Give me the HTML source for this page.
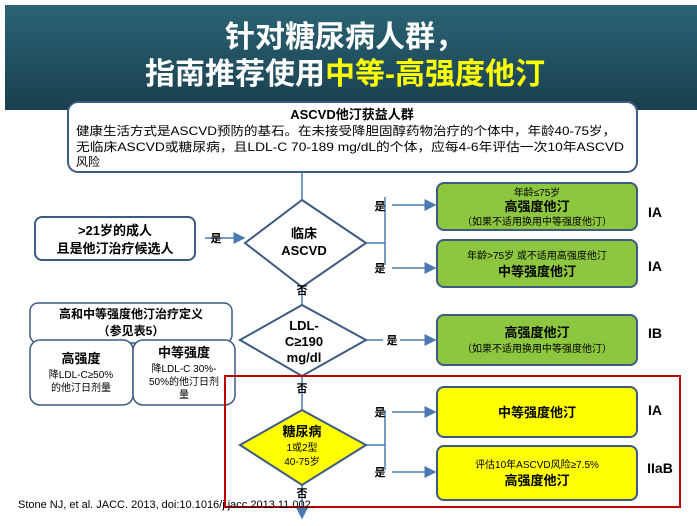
<!DOCTYPE html>
<html><head><meta charset="utf-8"><style>
body{margin:0;width:697px;height:521px;background:#fff;overflow:hidden}
text{font-family:"Liberation Sans","Noto Sans CJK SC",sans-serif}
</style></head><body>
<svg width="697" height="521" viewBox="0 0 697 521">
<defs>
<linearGradient id="hd" x1="0" y1="0" x2="0" y2="1"><stop offset="0" stop-color="#2a6474"/><stop offset="1" stop-color="#1a3f4e"/></linearGradient>
<marker id="ar" markerWidth="8" markerHeight="8" refX="7" refY="4" orient="auto"><path d="M0,0 L8,4 L0,8 z" fill="#4a7ab0"/></marker>
</defs>
<rect x="5" y="5" width="692" height="105" fill="url(#hd)"/>
<text x="345" y="47" text-anchor="middle" font-size="30" font-weight="bold" fill="#fff">针对糖尿病人群，</text>
<text x="345" y="84" text-anchor="middle" font-size="30" font-weight="bold" fill="#fff">指南推荐使用<tspan fill="#ffff00">中等-高强度他汀</tspan></text>
<rect x="68" y="102" width="569" height="70" rx="10" fill="#fff" stroke="#3d5a80" stroke-width="2"/>
<text x="352" y="119" text-anchor="middle" font-size="13" font-weight="bold">ASCVD他汀获益人群</text>
<text x="76" y="135" font-size="12" textLength="540" lengthAdjust="spacingAndGlyphs">健康生活方式是ASCVD预防的基石。在未接受降胆固醇药物治疗的个体中，年龄40-75岁，</text>
<text x="76" y="151" font-size="12" textLength="548" lengthAdjust="spacingAndGlyphs">无临床ASCVD或糖尿病，且LDL-C 70-189 mg/dL的个体，应每4-6年评估一次10年ASCVD</text>
<text x="76" y="166" font-size="12">风险</text>
<g stroke="#4a7ab0" stroke-width="1.5" fill="none">
<line x1="302" y1="172" x2="302" y2="200"/>
<line x1="302" y1="287" x2="302" y2="305"/>
<line x1="302" y1="376" x2="302" y2="410"/>
<line x1="302" y1="485" x2="302" y2="518" marker-end="url(#ar)"/>
<line x1="205" y1="238" x2="244" y2="238" marker-end="url(#ar)"/>
<line x1="366" y1="243" x2="385" y2="243"/>
<line x1="385" y1="197" x2="385" y2="265"/>
<line x1="392" y1="205" x2="435" y2="205" marker-end="url(#ar)"/>
<line x1="392" y1="268" x2="435" y2="268" marker-end="url(#ar)"/>
<line x1="366" y1="340" x2="383" y2="340"/>
<line x1="400" y1="340" x2="435" y2="340" marker-end="url(#ar)"/>
<line x1="366" y1="445" x2="385" y2="445"/>
<line x1="385" y1="410" x2="385" y2="470"/>
<line x1="392" y1="412" x2="435" y2="412" marker-end="url(#ar)"/>
<line x1="392" y1="472" x2="435" y2="472" marker-end="url(#ar)"/>
</g>
<rect x="35" y="217" width="160" height="43" rx="7" fill="#fff" stroke="#3d5a80" stroke-width="2"/>
<text x="115" y="235" text-anchor="middle" font-size="13" font-weight="bold">&gt;21岁的成人</text>
<text x="115" y="253" text-anchor="middle" font-size="13" font-weight="bold">且是他汀治疗候选人</text>
<text x="216" y="242" text-anchor="middle" font-size="11" font-weight="bold">是</text>
<polygon points="302,200 366,243 302,287 245,243" fill="#fff" stroke="#3d5a80" stroke-width="2"/>
<text x="304" y="238" text-anchor="middle" font-size="13" font-weight="bold">临床</text>
<text x="304" y="255" text-anchor="middle" font-size="13" font-weight="bold">ASCVD</text>
<text x="380" y="210" text-anchor="middle" font-size="11" font-weight="bold">是</text>
<text x="380" y="272" text-anchor="middle" font-size="11" font-weight="bold">是</text>
<rect x="437" y="183" width="200" height="47" rx="7" fill="#8dc63f" stroke="#3d5a80" stroke-width="2"/>
<text x="537" y="196" text-anchor="middle" font-size="10">年龄≤75岁</text>
<text x="537" y="211" text-anchor="middle" font-size="13" font-weight="bold">高强度他汀</text>
<text x="537" y="225" text-anchor="middle" font-size="10">（如果不适用换用中等强度他汀）</text>
<rect x="437" y="240" width="200" height="47" rx="7" fill="#8dc63f" stroke="#3d5a80" stroke-width="2"/>
<text x="537" y="259" text-anchor="middle" font-size="10">年龄&gt;75岁 或不适用高强度他汀</text>
<text x="537" y="276" text-anchor="middle" font-size="13" font-weight="bold">中等强度他汀</text>
<text x="655" y="217" text-anchor="middle" font-size="14" font-weight="bold">IA</text>
<text x="655" y="271" text-anchor="middle" font-size="14" font-weight="bold">IA</text>
<text x="302" y="294" text-anchor="middle" font-size="11" font-weight="bold">否</text>
<polygon points="302,305 366,340 302,376 240,340" fill="#fff" stroke="#3d5a80" stroke-width="2"/>
<text x="304" y="330" text-anchor="middle" font-size="13" font-weight="bold">LDL-</text>
<text x="304" y="346" text-anchor="middle" font-size="13" font-weight="bold">C≥190</text>
<text x="304" y="362" text-anchor="middle" font-size="13" font-weight="bold">mg/dl</text>
<text x="392" y="344" text-anchor="middle" font-size="11" font-weight="bold">是</text>
<rect x="437" y="315" width="200" height="50" rx="7" fill="#8dc63f" stroke="#3d5a80" stroke-width="2"/>
<text x="537" y="337" text-anchor="middle" font-size="13" font-weight="bold">高强度他汀</text>
<text x="537" y="352" text-anchor="middle" font-size="10">（如果不适用换用中等强度他汀）</text>
<text x="655" y="338" text-anchor="middle" font-size="14" font-weight="bold">IB</text>
<rect x="30" y="303" width="202" height="40" rx="8" fill="#fff" stroke="#3d5a80" stroke-width="1.5"/>
<text x="131" y="318" text-anchor="middle" font-size="12" font-weight="bold">高和中等强度他汀治疗定义</text>
<text x="131" y="335" text-anchor="middle" font-size="12" font-weight="bold">（参见表5）</text>
<rect x="30" y="340" width="103" height="65" rx="10" fill="#fff" stroke="#3d5a80" stroke-width="1.5"/>
<rect x="133" y="340" width="102" height="65" rx="10" fill="#fff" stroke="#3d5a80" stroke-width="1.5"/>
<text x="81" y="363" text-anchor="middle" font-size="13" font-weight="bold">高强度</text>
<text x="81" y="378" text-anchor="middle" font-size="10">降LDL-C≥50%</text>
<text x="81" y="391" text-anchor="middle" font-size="10">的他汀日剂量</text>
<text x="184" y="357" text-anchor="middle" font-size="13" font-weight="bold">中等强度</text>
<text x="184" y="372" text-anchor="middle" font-size="10">降LDL-C 30%-</text>
<text x="184" y="385" text-anchor="middle" font-size="10">50%的他汀日剂</text>
<text x="184" y="398" text-anchor="middle" font-size="10">量</text>
<text x="302" y="392" text-anchor="middle" font-size="11" font-weight="bold">否</text>
<rect x="225" y="376" width="455" height="131" fill="none" stroke="#c00000" stroke-width="2"/>
<polygon points="302,410 366,445 302,485 240,445" fill="#ffff00" stroke="#3d5a80" stroke-width="2"/>
<text x="302" y="436" text-anchor="middle" font-size="13" font-weight="bold">糖尿病</text>
<text x="302" y="451" text-anchor="middle" font-size="10">1或2型</text>
<text x="302" y="465" text-anchor="middle" font-size="10">40-75岁</text>
<text x="380" y="416" text-anchor="middle" font-size="11" font-weight="bold">是</text>
<text x="380" y="476" text-anchor="middle" font-size="11" font-weight="bold">是</text>
<rect x="437" y="387" width="200" height="50" rx="7" fill="#ffff00" stroke="#3d5a80" stroke-width="2"/>
<text x="537" y="417" text-anchor="middle" font-size="13" font-weight="bold">中等强度他汀</text>
<rect x="437" y="446" width="200" height="54" rx="7" fill="#ffff00" stroke="#3d5a80" stroke-width="2"/>
<text x="537" y="468" text-anchor="middle" font-size="10">评估10年ASCVD风险≥7.5%</text>
<text x="537" y="485" text-anchor="middle" font-size="13" font-weight="bold">高强度他汀</text>
<text x="655" y="415" text-anchor="middle" font-size="14" font-weight="bold">IA</text>
<text x="660" y="473" text-anchor="middle" font-size="14" font-weight="bold">IIaB</text>
<text x="302" y="497" text-anchor="middle" font-size="11" font-weight="bold">否</text>
<text x="18" y="508" font-size="11">Stone NJ, et al. JACC. 2013, doi:10.1016/j.jacc.2013.11.002.</text>
</svg>
</body></html>
